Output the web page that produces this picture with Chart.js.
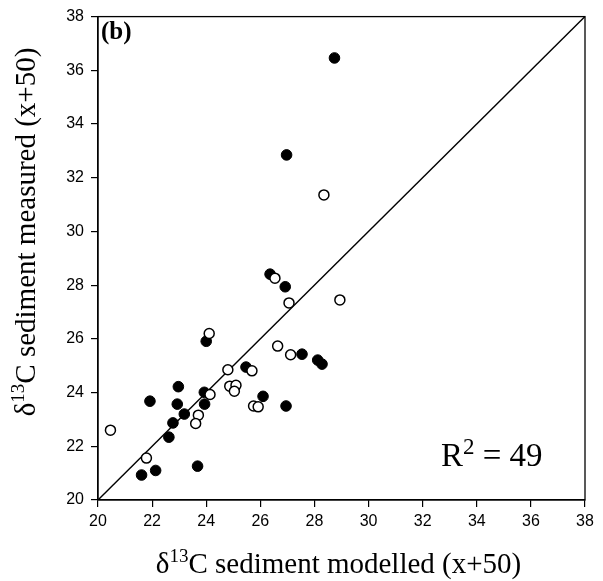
<!DOCTYPE html>
<html>
<head>
<meta charset="utf-8">
<script src="https://cdn.jsdelivr.net/npm/chart.js@4/dist/chart.umd.min.js"></script>
<style>
html,body{margin:0;padding:0;background:#fff;}
#wrap{width:603px;height:581px;position:relative;}
</style>
</head>
<body>
<div id="wrap"><canvas id="c" width="603" height="581"></canvas></div>
<script>
// Filled circles (series 1)
const filledX = [28.74, 26.97, 26.36, 26.92, 24.00, 25.47, 27.54, 28.12, 28.28, 22.97, 23.93, 21.92, 22.93, 23.94, 26.10, 26.95, 23.19, 22.77, 22.62, 23.68, 22.13, 21.61];
const filledY = [36.46, 32.85, 28.41, 27.94, 25.91, 24.95, 25.43, 25.21, 25.06, 24.22, 24.01, 23.68, 23.57, 23.57, 23.86, 23.50, 23.20, 22.87, 22.34, 21.26, 21.10, 20.93];
// Open circles (series 2)
const openX = [28.35, 26.54, 27.06, 28.94, 24.11, 26.64, 27.12, 24.80, 25.69, 24.87, 25.10, 25.04, 24.14, 25.75, 25.92, 23.71, 23.61, 20.46, 21.79];
const openY = [31.36, 28.26, 27.34, 27.45, 26.20, 25.73, 25.41, 24.85, 24.81, 24.24, 24.27, 24.05, 23.93, 23.50, 23.47, 23.16, 22.85, 22.60, 21.56];
// 1:1 line
const lineX = [20, 38];
const lineY = [20, 38];
const axisMin = 20, axisMax = 38, axisStep = 2;
const xTitle = ["δ", "13", "C sediment modelled (x+50)"];
const yTitle = ["δ", "13", "C sediment measured (x+50)"];
const panelLabel = "(b)";
const r2Text = ["R", "2", " = 49"];

const toPts = (xs, ys) => xs.map((x, i) => ({x: x, y: ys[i]}));

function measureSup(ctx, parts, size, supSize) {
  ctx.font = size + "px 'Liberation Serif'";
  const w0 = ctx.measureText(parts[0]).width;
  const w2 = ctx.measureText(parts[2]).width;
  ctx.font = supSize + "px 'Liberation Serif'";
  const w1 = ctx.measureText(parts[1]).width;
  return {w0, w1, w2, total: w0 + w1 + w2};
}
function renderSup(ctx, parts, size, supSize, supRaise, cx, baseline) {
  const m = measureSup(ctx, parts, size, supSize);
  let x = cx - m.total / 2;
  ctx.textAlign = "left";
  ctx.textBaseline = "alphabetic";
  ctx.font = size + "px 'Liberation Serif'";
  ctx.fillText(parts[0], x, baseline); x += m.w0;
  ctx.font = supSize + "px 'Liberation Serif'";
  ctx.fillText(parts[1], x, baseline - supRaise); x += m.w1;
  ctx.font = size + "px 'Liberation Serif'";
  ctx.fillText(parts[2], x, baseline);
}

const decor = {
  id: "decor",
  afterDraw(chart) {
    const ctx = chart.ctx, a = chart.chartArea;
    ctx.save();
    ctx.strokeStyle = "#000";
    ctx.lineWidth = 1.3;
    ctx.strokeRect(a.left, a.top, a.right - a.left, a.bottom - a.top);
    ctx.fillStyle = "#000";
    // panel label
    ctx.font = "bold 25px 'Liberation Serif'";
    ctx.textAlign = "left";
    ctx.textBaseline = "alphabetic";
    ctx.fillText(panelLabel, a.left + 3, a.top + 22);
    // R2
    ctx.font = "33px 'Liberation Serif'";
    const wR = ctx.measureText(r2Text[0]).width;
    ctx.font = "23px 'Liberation Serif'";
    const w2 = ctx.measureText(r2Text[1]).width;
    let x = 441, yb = 466;
    ctx.font = "33px 'Liberation Serif'";
    ctx.fillText(r2Text[0], x, yb); x += wR;
    ctx.font = "23px 'Liberation Serif'";
    ctx.fillText(r2Text[1], x, yb - 12); x += w2;
    ctx.font = "33px 'Liberation Serif'";
    ctx.fillText(r2Text[2], x, yb);
    // x title
    renderSup(ctx, xTitle, 29, 19, 11, (a.left + a.right) / 2 - 3, 573);
    // y title
    ctx.translate(35, 232);
    ctx.rotate(-Math.PI / 2);
    renderSup(ctx, yTitle, 29, 19, 11, 0, 0);
    ctx.restore();
  }
};

new Chart(document.getElementById("c"), {
  type: "scatter",
  data: {
    datasets: [
      {
        label: "open",
        data: toPts(openX, openY),
        backgroundColor: "#fff",
        borderColor: "#000",
        borderWidth: 1.5,
        pointRadius: 5,
        pointHoverRadius: 5
      },
      {
        label: "filled",
        data: toPts(filledX, filledY),
        backgroundColor: "#000",
        borderColor: "#000",
        borderWidth: 1,
        pointRadius: 5.3,
        pointHoverRadius: 5.3
      },
      {
        type: "line",
        label: "1:1",
        data: toPts(lineX, lineY),
        borderColor: "#000",
        borderWidth: 1.4,
        pointRadius: 0,
        fill: false,
        tension: 0
      }
    ]
  },
  options: {
    responsive: false,
    animation: false,
    events: [],
    layout: { padding: { left: 0, top: 14, right: 18, bottom: 0 } },
    plugins: { legend: { display: false }, tooltip: { enabled: false }, title: { display: false } },
    scales: {
      x: {
        type: "linear",
        min: axisMin, max: axisMax,
        afterFit(s) { s.height = 81; },
        ticks: { stepSize: axisStep, color: "#000", font: { family: "'Liberation Sans'", size: 16 }, padding: 5, maxRotation: 0 },
        grid: { drawOnChartArea: false, drawTicks: true, tickLength: 7, color: "#000", lineWidth: 1.2 },
        border: { display: true, color: "#000", width: 1.3 }
      },
      y: {
        type: "linear",
        min: axisMin, max: axisMax,
        afterFit(s) { s.width = 98; },
        ticks: { stepSize: axisStep, color: "#000", font: { family: "'Liberation Sans'", size: 16 }, padding: 7 },
        grid: { drawOnChartArea: false, drawTicks: true, tickLength: 7, color: "#000", lineWidth: 1.2 },
        border: { display: true, color: "#000", width: 1.3 }
      }
    }
  },
  plugins: [decor]
});
</script>
</body>
</html>
